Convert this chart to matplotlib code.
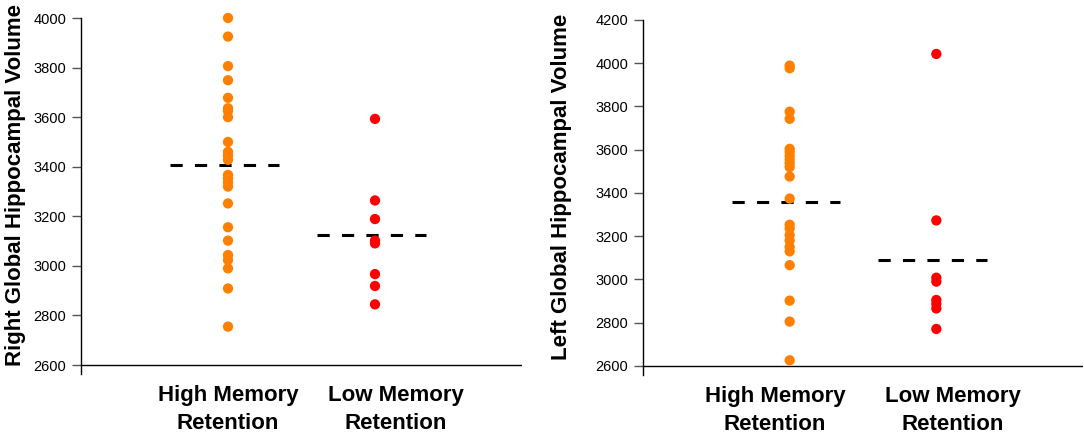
import numpy as np
import matplotlib
matplotlib.use('Agg')
import matplotlib.pyplot as plt

plt.rcParams['font.family'] = ['Liberation Sans', 'DejaVu Sans']

# group labels
groups = ['High Memory\nRetention', 'Low Memory\nRetention']

# right hemisphere volumes
right_high = [4000, 3925, 3806, 3749, 3678, 3636, 3625, 3600, 3500, 3460, 3445,
              3428, 3367, 3352, 3336, 3320, 3252, 3156, 3102, 3044, 3024, 2990,
              2909, 2755]
right_low = [3593, 3264, 3189, 3102, 3091, 2967, 2919, 2845]
right_means = [3406, 3124]
right_ticks = [2600, 2800, 3000, 3200, 3400, 3600, 3800, 4000]

# left hemisphere volumes
left_high = [3989, 3977, 3776, 3743, 3604, 3590, 3572, 3555, 3538, 3520, 3476,
             3374, 3253, 3236, 3205, 3180, 3150, 3130, 3066, 2902, 2805, 2626]
left_low = [4043, 3273, 3008, 2990, 2905, 2887, 2866, 2771]
left_means = [3356, 3091]
left_ticks = [2600, 2800, 3000, 3200, 3400, 3600, 3800, 4000, 4200]

colors = ['#ff8000', '#ff0000']

W, H = 1084, 436
fig = plt.figure(figsize=(W / 100, H / 100), dpi=100)


def panel(rect, high, low, means, ticks, ylim, ylabel, label_x, lab_pos):
    ax = fig.add_axes(rect)
    for i, vals in enumerate([high, low]):
        xpos = np.full(len(vals), i + 1)
        ax.scatter(xpos, vals, s=55, color=colors[i], edgecolors='none',
                   zorder=3, clip_on=False)
        ax.hlines(means[i], i + 1 - 0.395, i + 1 + 0.345, colors='black',
                  linewidth=2.2, linestyles=(0, (4, 4)), zorder=2)
    ax.axhline(ticks[0], color='black', linewidth=1)
    ax.set_ylim(*ylim)
    ax.set_xlim(0, 3)
    ax.set_yticks(ticks)
    # group labels sit a little apart from the dot columns
    ax.set_xticks(lab_pos)
    ax.set_xticklabels(groups, fontsize=16, fontweight='bold', linespacing=1.45)
    ax.tick_params(axis='x', length=0, pad=8)
    ax.tick_params(axis='y', length=6.5, width=1, color='#555555',
                   labelsize=10.5, pad=4)
    for s in ['top', 'right', 'bottom']:
        ax.spines[s].set_visible(False)
    ax.spines['left'].set_linewidth(1)
    ax.set_ylabel(ylabel, fontsize=16, fontweight='bold')
    ax.yaxis.set_label_coords(label_x, 0.53)
    return ax


panel([81 / W, 1 - 374 / H, 441 / W, 356 / H], right_high, right_low,
      right_means, right_ticks, (2564, 4000),
      'Right Global Hippocampal Volume', -0.125, [1, 2.143])
panel([643 / W, 1 - 375 / H, 440 / W, 355 / H], left_high, left_low,
      left_means, left_ticks, (2558, 4200),
      'Left Global Hippocampal Volume', -0.161, [0.9, 2.113])

plt.savefig('out.png', dpi=100)
